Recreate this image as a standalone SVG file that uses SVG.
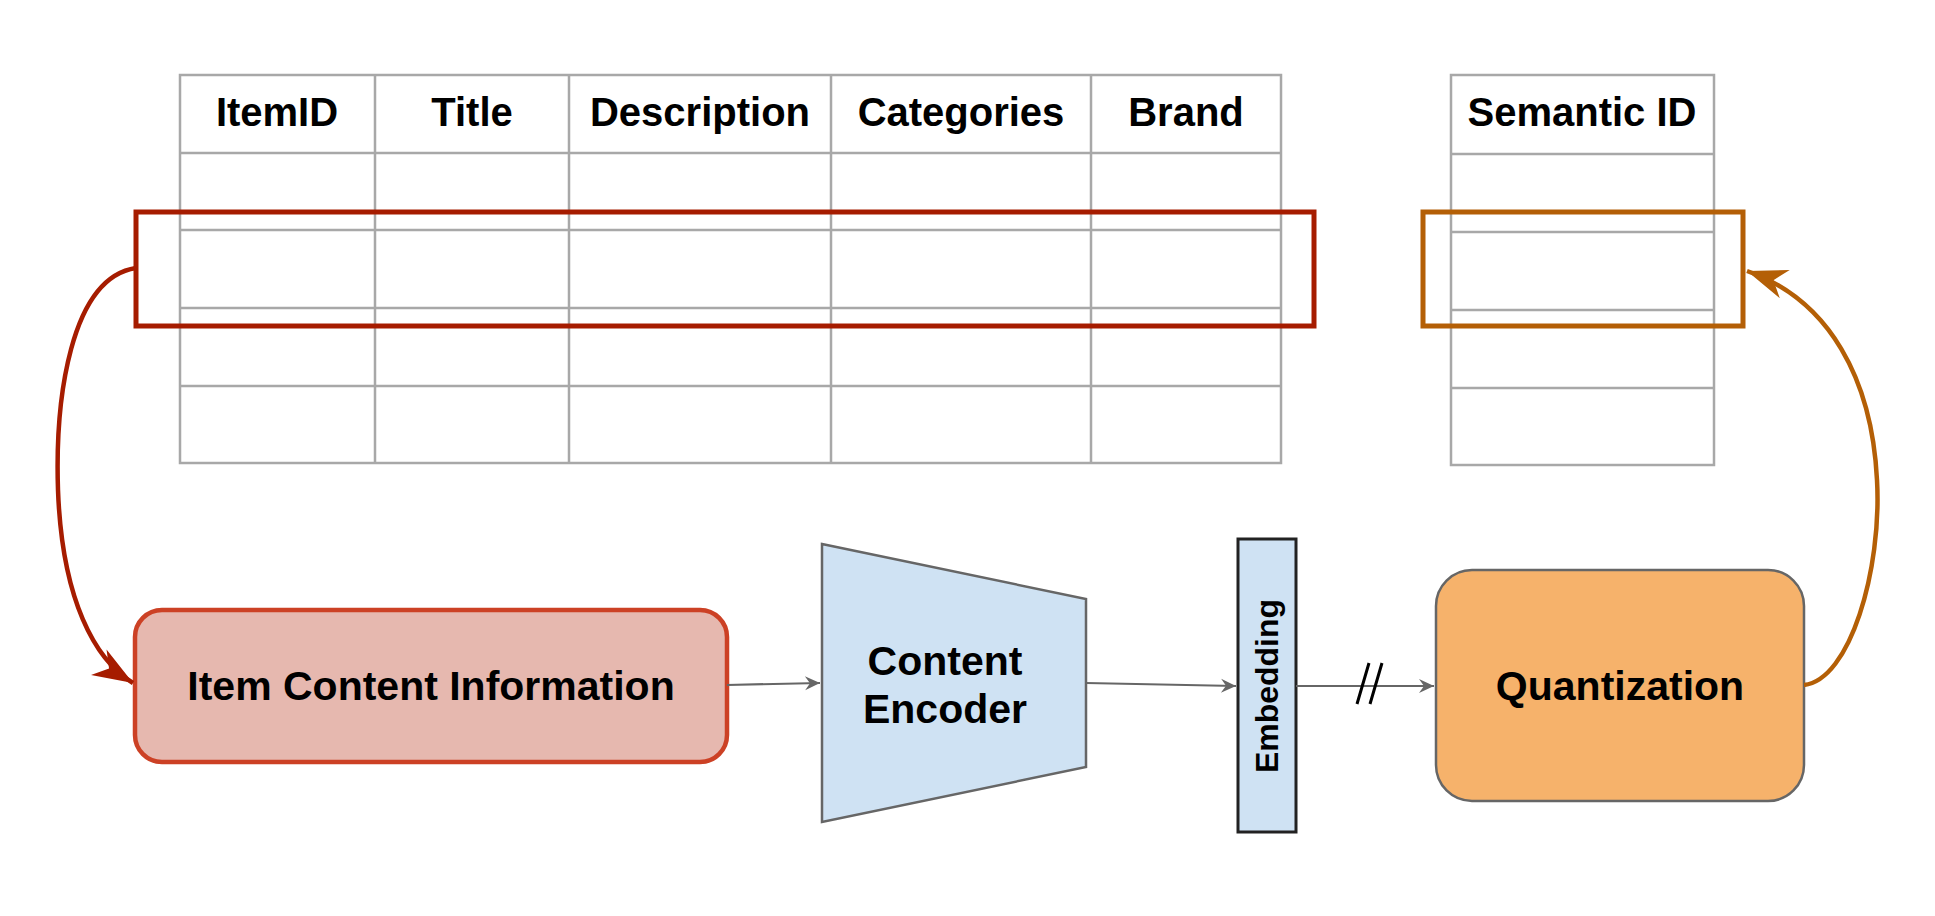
<svg xmlns="http://www.w3.org/2000/svg" width="1935" height="916" viewBox="0 0 1935 916">
<style>
.grid{stroke:#A8A8A8;stroke-width:2.5;fill:none}
.hdr{font-family:"Liberation Sans",Arial,sans-serif;font-weight:bold;font-size:40px;fill:#000;text-anchor:middle}
.lbl{font-family:"Liberation Sans",Arial,sans-serif;font-weight:bold;font-size:41px;fill:#000;text-anchor:middle}
.gl{stroke:#666;stroke-width:2.2;fill:none}
</style>
<defs>
<marker id="ag" markerUnits="userSpaceOnUse" markerWidth="20" markerHeight="16" viewBox="-16 -8 18 16" refX="0" refY="0" orient="auto">
<path d="M0,0 L-15,-7 L-10,0 L-15,7 Z" fill="#666"/>
</marker>
<marker id="ar" markerUnits="userSpaceOnUse" markerWidth="44" markerHeight="34" viewBox="-42 -17 44 34" refX="0" refY="0" orient="auto">
<path d="M0,0 L-40,-15 L-28,0 L-40,15 Z" fill="#A61C00"/>
</marker>
<marker id="ao" markerUnits="userSpaceOnUse" markerWidth="44" markerHeight="34" viewBox="-42 -17 44 34" refX="0" refY="0" orient="auto">
<path d="M0,0 L-40,-15 L-28,0 L-40,15 Z" fill="#B45F06"/>
</marker>
</defs>
<rect width="1935" height="916" fill="#fff"/>
<g id="item-table">
<rect class="grid" x="180" y="75" width="1101" height="388" fill="#fff"/>
<path class="grid" d="M180,153 H1281 M180,230 H1281 M180,308 H1281 M180,386 H1281 M375,75 V463 M569,75 V463 M831,75 V463 M1091,75 V463"/>
<text class="hdr" x="277" y="126">ItemID</text>
<text class="hdr" x="472" y="126">Title</text>
<text class="hdr" x="700" y="126">Description</text>
<text class="hdr" x="961" y="126">Categories</text>
<text class="hdr" x="1186" y="126">Brand</text>
</g>
<g id="semantic-table">
<rect class="grid" x="1451" y="75" width="263" height="390" fill="#fff"/>
<path class="grid" d="M1451,154 H1714 M1451,232 H1714 M1451,310 H1714 M1451,388 H1714"/>
<text class="hdr" x="1582" y="126">Semantic ID</text>
</g>
<g id="row-highlight">
<rect x="136" y="212" width="1178" height="114" fill="none" stroke="#A61C00" stroke-width="5"/>
</g>
<g id="sid-highlight">
<rect x="1423" y="212" width="320" height="114" fill="none" stroke="#B45F06" stroke-width="5"/>
</g>
<g id="item-content">
<rect x="135" y="610" width="592" height="152" rx="27" fill="#E6B8AF" stroke="#CC4125" stroke-width="4.5"/>
<text class="lbl" x="431" y="700">Item Content Information</text>
</g>
<g id="content-encoder">
<polygon points="822,544 1086,599 1086,767 822,822" fill="#CFE2F3" stroke="#666" stroke-width="2.5"/>
<text class="lbl" x="945" y="675">Content</text>
<text class="lbl" x="945" y="723">Encoder</text>
</g>
<g id="embedding">
<rect x="1238" y="539" width="58" height="293" fill="#CFE2F3" stroke="#222" stroke-width="3"/>
<text x="0" y="0" transform="translate(1278,686) rotate(-90)" font-family="Liberation Sans,Arial,sans-serif" font-weight="bold" font-size="32" text-anchor="middle">Embedding</text>
</g>
<g id="quantization">
<rect x="1436" y="570" width="368" height="231" rx="36" fill="#F6B26B" stroke="#666" stroke-width="2.5"/>
<text class="lbl" x="1620" y="700">Quantization</text>
</g>
<g id="connectors">
<path class="gl" d="M727,685 L820,683" marker-end="url(#ag)"/>
<path class="gl" d="M1086,683 L1236,686" marker-end="url(#ag)"/>
<path class="gl" d="M1296,686 L1434,686" marker-end="url(#ag)"/>
<path d="M1357,704 L1369,663 M1370,704 L1382,663" stroke="#000" stroke-width="3" fill="none"/>
<path d="M136,268 C70,278 55,400 58,490 C62,600 95,660 133,683" fill="none" stroke="#A61C00" stroke-width="4.5" marker-end="url(#ar)"/>
<path d="M1804,685 C1850,680 1882,570 1877,480 C1872,380 1830,300 1747,271" fill="none" stroke="#B45F06" stroke-width="4.5" marker-end="url(#ao)"/>
</g>
</svg>
